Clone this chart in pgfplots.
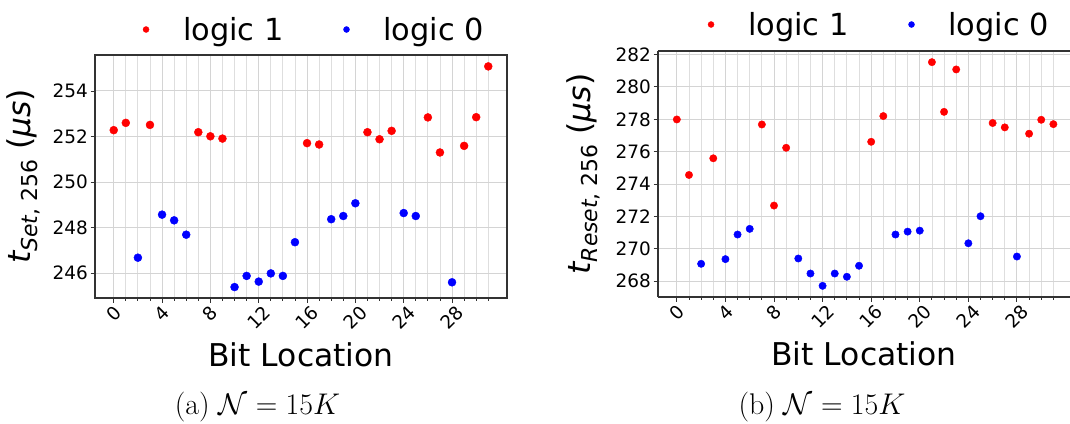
\RequirePackage{fix-cm}
\documentclass[border=0pt]{standalone}
\usepackage{fontspec}
\usepackage{pgfplots}
\pgfplotsset{compat=1.18}
\newfontfamily\dejavu{DejaVu Sans}

\pgfplotstableread{
x y
0 252.28
1 252.60
3 252.51
7 252.19
8 252.01
9 251.91
16 251.71
17 251.65
21 252.19
22 251.88
23 252.25
26 252.84
27 251.30
29 251.59
30 252.85
31 255.08
}\setone
\pgfplotstableread{
x y
2 246.68
4 248.57
5 248.32
6 247.69
10 245.39
11 245.88
12 245.63
13 245.99
14 245.88
15 247.36
18 248.37
19 248.51
20 249.07
24 248.64
25 248.51
28 245.60
}\setzero
\pgfplotstableread{
x y
0 277.99
1 274.56
3 275.59
7 277.68
8 272.67
9 276.24
16 276.61
17 278.20
21 281.53
22 278.46
23 281.08
26 277.77
27 277.50
29 277.11
30 277.97
31 277.70
}\resetone
\pgfplotstableread{
x y
2 269.07
4 269.36
5 270.88
6 271.23
10 269.40
11 268.47
12 267.71
13 268.47
14 268.27
15 268.95
18 270.88
19 271.06
20 271.12
24 270.34
25 272.01
28 269.52
}\resetzero

\pgfplotsset{
  myaxis/.style={
    scale only axis,
    anchor=south west,
    xmin=-1.55,
    xtick={0,4,...,28},
    minor xtick={1,2,3,5,6,7,9,10,11,13,14,15,17,18,19,21,22,23,25,26,27,29,30,31},
    xmajorgrids, xminorgrids, ymajorgrids,
    major grid style={black!17, line width=1bp},
    minor grid style={black!13, line width=0.8bp},
    tick align=outside, tick pos=left,
    major tick length=4.5bp, minor tick length=2.6bp,
    every tick/.style={black!80, line width=0.9bp},
    axis line style={black!80, line width=1.1bp},
    /pgf/number format/assume math mode=true,
    xticklabel={\rotatebox{45}{\pgfmathprintnumber{\tick}}},
    tick label style={font=\dejavu\fontsize{18.5}{20}\selectfont, black},
    xticklabel style={anchor=north, inner sep=2bp},
    yticklabel style={anchor=east, inner sep=2.5bp},
    xlabel={Bit Location},
    xlabel style={font=\dejavu\fontsize{31.5}{36}\selectfont, at={(axis description cs:0.5,0)}, anchor=base, yshift=-68bp},
    ylabel style={font=\dejavu\fontsize{31.5}{36}\selectfont, rotate=0, anchor=south},
    legend columns=-1,
    legend style={at={(0.5,1)}, anchor=south, yshift=13bp, draw=none, fill=none,
      inner sep=0pt, font=\dejavu\fontsize{30.5}{36}\selectfont,
      nodes={inner sep=0pt},
      /tikz/every odd column/.append style={column sep=31bp},
      /tikz/every even column/.append style={column sep=57bp}},
    legend image code/.code={\path[draw=none, fill=none] (-6bp,-3bp) rectangle (6bp,3bp); \fill (0bp,0bp) circle (3bp);},
  }
}

\begin{document}
\begin{tikzpicture}[x=1bp,y=1bp]
\useasboundingbox (0,0) rectangle (1070,423);

\begin{axis}[myaxis,
  at={(95bp,125bp)}, width=412bp, height=243bp,
  xmax=32.55, ymin=244.91, ymax=255.58,
  ytick={246,248,...,254},
  ylabel style={at={(axis description cs:-0.124,0.5)}},
  legend style={xshift=11bp},
  ylabel={{\itshape t}\raisebox{-0.22em}{\fontsize{22}{23}\selectfont\itshape Set\upshape, 256} (\textit{μs})},
]
\addplot[only marks, mark=*, mark size=4bp, red] table[x=x,y=y] {\setone};
\addlegendentry{logic 1}
\addplot[only marks, mark=*, mark size=4bp, blue] table[x=x,y=y] {\setzero};
\addlegendentry{logic 0}
\end{axis}

\begin{axis}[myaxis,
  at={(658bp,126bp)}, width=412bp, height=246bp,
  axis y line*=left,
  xmax=32.37, ymin=267.02, ymax=282.22,
  ytick={268,270,...,282},
  ylabel style={at={(axis description cs:-0.132,0.5)}},
  legend style={xshift=13bp, yshift=1bp},
  ylabel={{\itshape t}\raisebox{-0.22em}{\fontsize{22}{23}\selectfont\itshape Reset\upshape, 256} (\textit{μs})},
]
\addplot[only marks, mark=*, mark size=3.7bp, red] table[x=x,y=y] {\resetone};
\addlegendentry{logic 1}
\addplot[only marks, mark=*, mark size=3.7bp, blue] table[x=x,y=y] {\resetzero};
\addlegendentry{logic 0}
\end{axis}

\node[font=\fontsize{30}{36}\selectfont, anchor=base] at (257.5,8.3) {(a) $\mathcal{N}=15K$};
\node[font=\fontsize{30}{36}\selectfont, anchor=base] at (822,8.3) {(b) $\mathcal{N}=15K$};
\end{tikzpicture}
\end{document}
